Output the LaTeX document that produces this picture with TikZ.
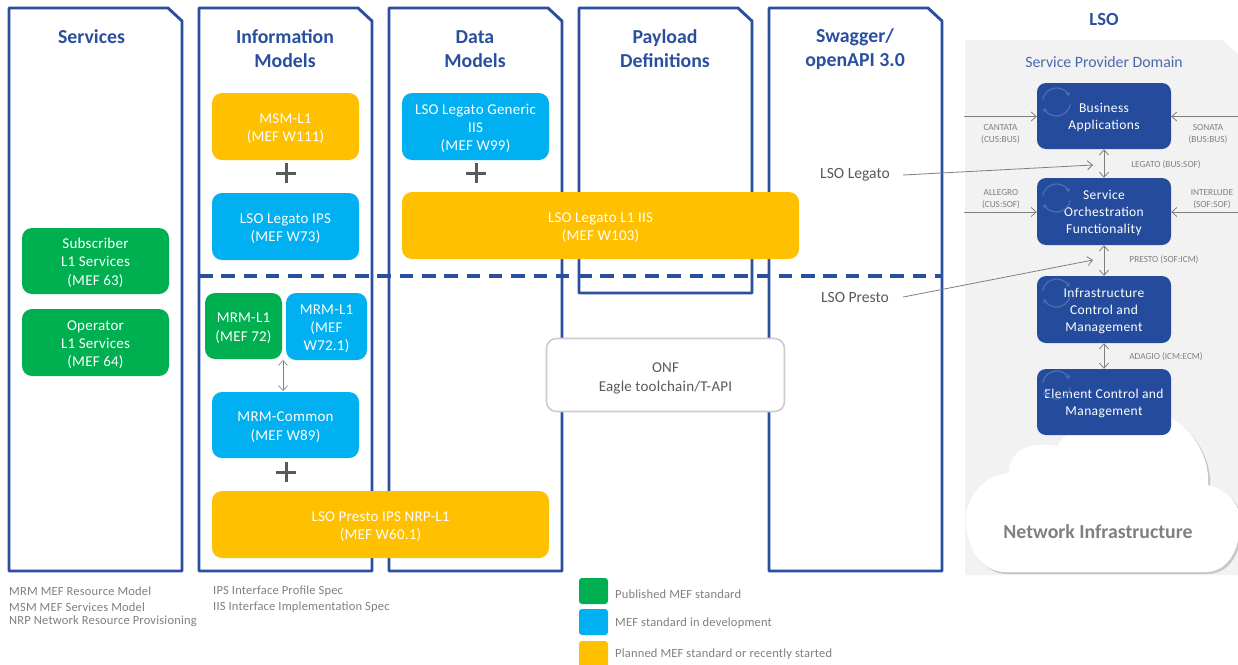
\documentclass[tikz,border=0pt]{standalone}
\usepackage{fontspec}
\setmainfont{Carlito}
\usetikzlibrary{arrows.meta}
\definecolor{mefblue}{HTML}{2A4F9F}
\definecolor{navy}{HTML}{254C9C}
\definecolor{pubgreen}{HTML}{00B050}
\definecolor{devcyan}{HTML}{00B0F0}
\definecolor{planyellow}{HTML}{FFC000}
\definecolor{panelgray}{HTML}{F2F2F2}
\definecolor{conn}{HTML}{7F7F7F}
\definecolor{labelgray}{HTML}{808080}
\definecolor{darkgray}{HTML}{595959}
\definecolor{iconblue}{HTML}{4C6FB2}
\newcommand{\mlift}{\rule{0pt}{14pt}}
\newcommand{\olift}{\rule{0pt}{16.5pt}}
\newcommand{\flift}{\rule{0pt}{13pt}}
\tikzset{
  x=1pt,y=-1pt,
  columnline/.style={draw=mefblue,line width=2.9pt,line join=round,fill=white},
  coltitle/.style={font=\fontsize{19.8}{24}\selectfont\bfseries,text=mefblue,align=center,inner sep=0},
  modelbox/.style={rounded corners=10pt,inner sep=0,text=white,align=center,font=\fontsize{15}{18.3}\selectfont\addfontfeature{LetterSpace=1.5}},
  pub/.style={modelbox,fill=pubgreen},
  dev/.style={modelbox,fill=devcyan},
  plan/.style={modelbox,fill=planyellow},
  funcbox/.style={rounded corners=9pt,fill=navy,inner sep=0,text=white,align=center,minimum width=134pt,font=\fontsize{13.5}{17}\selectfont\addfontfeature{LetterSpace=3}},
  plusline/.style={draw=darkgray,line width=3pt},
  link/.style={draw=conn,line width=.8pt,-{Straight Barb[length=5pt,width=9pt]}},
  biglink/.style={draw=conn,line width=.8pt,{Straight Barb[length=5pt,width=9pt]}-{Straight Barb[length=5pt,width=9pt]}},
  smalllabel/.style={font=\fontsize{9.3}{12}\selectfont,text=labelgray,align=center,inner sep=0},
  footer/.style={font=\fontsize{12.5}{14}\selectfont\addfontfeature{LetterSpace=1.5},text=labelgray,anchor=west,inner sep=0},
  iconarc/.style={draw=iconblue,line width=1.2pt,-{Stealth[length=4pt,width=5pt]}},
  apilabel/.style={font=\fontsize{15.6}{17}\selectfont,text=darkgray,inner sep=0,minimum width=96pt,align=center},
}
\begin{document}
\begin{tikzpicture}
\useasboundingbox (0,0) rectangle (1238,664);
\clip (0,0) rectangle (1238,664);
\fill[white] (0,0) rectangle (1238,664);

% columns
\foreach \l/\r/\b in {9/182/571,199/372/571,389/562/571,579/752/293,769/942/571}{
  \pgfmathsetmacro{\nx}{\r-14}
  \draw[columnline] (\l,8) -- (\nx,8) -- (\r,21) -- (\r,\b) -- (\l,\b) -- cycle;
}
\node[coltitle] (tserv) at (91.5,37) {Services};
\node[coltitle] (tinfo) at (285,49) {Information\\Models};
\node[coltitle] (tdata) at (475,49) {Data\\Models};
\node[coltitle] (tpay) at (665,49) {Payload\\Definitions};
\node[coltitle] (tswag) at (855,49) {Swagger/\\openAPI 3.0};

% dashed separator
\coordinate (dashL) at (199,276);
\coordinate (dashR) at (942,276);
\draw[draw=mefblue,line width=3.2pt,dash pattern=on 13.5pt off 8.8pt] (dashL) -- (dashR);

% model boxes
\node[pub,minimum width=147pt,minimum height=66pt] (sub) at (95.5,261) {\mlift Subscriber\\L1 Services\\(MEF 63)};
\node[pub,minimum width=147pt,minimum height=67pt] (oper) at (95.5,342.5) {\mlift Operator\\L1 Services\\(MEF 64)};
\node[plan,minimum width=147pt,minimum height=67pt] (msm) at (285.5,126.5) {\mlift MSM-L1\\(MEF W111)};
\node[dev,minimum width=147pt,minimum height=67pt] (legips) at (285.5,226.5) {\mlift LSO Legato IPS\\(MEF W73)};
\node[pub,minimum width=77pt,minimum height=66pt] (mrma) at (243.5,326) {\mlift MRM-L1\\(MEF 72)};
\node[dev,minimum width=81pt,minimum height=67pt] (mrmb) at (326.5,326.5) {\mlift MRM-L1\\(MEF\\W72.1)};
\node[dev,minimum width=147pt,minimum height=66pt] (mrmc) at (285.5,425) {\mlift MRM-Common\\(MEF W89)};
\node[plan,minimum width=337pt,minimum height=67pt] (prips) at (380.5,524.5) {\mlift LSO Presto IPS NRP-L1\\(MEF W60.1)};
\node[dev,minimum width=147pt,minimum height=67pt] (leggen) at (475.5,126.5) {\mlift LSO Legato Generic\\IIS\\(MEF W99)};
\node[plan,minimum width=397pt,minimum height=67pt] (legiis) at (600.5,225.5) {\mlift LSO Legato L1 IIS\\(MEF W103)};
\node[modelbox,fill=white,draw=black!20,line width=1.6pt,text=darkgray,minimum width=238pt,minimum height=73pt] (onf) at (665.5,375) {\olift ONF\\Eagle toolchain/T-API};

% plus signs
\foreach \px/\py in {286/173,476/173,286/472}{
  \draw[plusline] (\px-10,\py) -- (\px+10,\py);
  \draw[plusline] (\px,\py-10) -- (\px,\py+10);
}
\coordinate (mrmtop) at (283,360);
\coordinate (mrmbot) at (283,391);
\draw[biglink,line width=.6pt] (mrmtop) -- (mrmbot);

% LSO panel
\node[font=\fontsize{18.5}{20}\selectfont\bfseries,text=mefblue,inner sep=0] (tlso) at (1104,19) {LSO};
\fill[panelgray] (965,40) -- (1222,40) -- (1238,54) -- (1238,575) -- (965,575) -- cycle;
\node[font=\fontsize{15.8}{17}\selectfont,text=mefblue!85!white,inner sep=0] (spd) at (1104,62) {Service Provider Domain};

% cloud with its soft shadow
\foreach \dx/\dy/\col in {2/2/black!22,0/0/white}{
\begin{scope}[shift={(\dx,\dy)}]
\fill[\col] (1009,473) .. controls (1008,455) and (1025,440) .. (1057,446)
  .. controls (1075,420) and (1125,395) .. (1170,418)
  .. controls (1195,430) and (1210,460) .. (1208,485)
  .. controls (1228,490) and (1240,505) .. (1240,520)
  .. controls (1240,555) and (1225,572) .. (1205,572)
  -- (1005,572)
  .. controls (980,572) and (966,545) .. (966,520)
  .. controls (966,495) and (985,475) .. (1009,473) -- cycle;
\end{scope}}
\node[font=\fontsize{19.8}{20}\selectfont\bfseries,text=black!50,inner sep=0] (netinf) at (1098,532) {Network Infrastructure};

% function boxes
\node[funcbox,minimum height=66pt] (bus) at (1104,116) {\flift Business\\Applications};
\node[funcbox,minimum height=67pt] (sof) at (1104,211.5) {\flift Service\\Orchestration\\Functionality};
\node[funcbox,minimum height=67pt] (icm) at (1104,309.5) {\flift Infrastructure\\Control and\\Management};
\node[funcbox,minimum height=66pt] (ecm) at (1104,402) {\flift Element Control and\\Management};
\foreach \iy in {102,198,293,385}{
  \draw[iconarc] ([shift={(190:14)}]1056.5,\iy) arc[start angle=190,end angle=335,radius=14];
  \draw[iconarc] ([shift={(10:14)}]1056.5,\iy) arc[start angle=10,end angle=155,radius=14];
}

% LSO connectors
\draw[biglink] (bus) -- (sof);
\draw[biglink] (sof) -- (icm);
\draw[biglink] (icm) -- (ecm);
\coordinate (cantL) at (964,116.5);
\coordinate (sonR) at (1238,116.5);
\coordinate (allL) at (964,212);
\coordinate (intR) at (1238,212);
\draw[link] (cantL) -- (bus.west |- cantL);
\draw[link] (sonR) -- (bus.east |- sonR);
\draw[link] (allL) -- (sof.west |- allL);
\draw[link] (intR) -- (sof.east |- intR);

\node[smalllabel] (lcant) at (1000.5,134) {CANTATA\\(CUS:BUS)};
\node[smalllabel] (lson) at (1208,134) {SONATA\\(BUS:BUS)};
\node[smalllabel] (lall) at (1001,199) {ALLEGRO\\(CUS:SOF)};
\node[smalllabel] (lint) at (1212,199) {INTERLUDE\\(SOF:SOF)};
\node[smalllabel] (lleg) at (1166,165) {LEGATO (BUS:SOF)};
\node[smalllabel] (lpre) at (1164,260) {PRESTO (SOF:ICM)};
\node[smalllabel] (lada) at (1166,357) {ADAGIO (ICM:ECM)};

\node[apilabel] (apileg) at (855,175) {LSO Legato};
\node[apilabel] (apipre) at (855,297) {LSO Presto};
\coordinate (legend) at (1093,165);
\coordinate (preend) at (1093,260);
\draw[link] (apileg.east) -- (legend);
\draw[link] (apipre.east) -- (preend);

% footnotes
\node[footer] (f1) at (9,591) {MRM MEF Resource Model};
\node[footer] (f2) at (9,607) {MSM MEF Services Model};
\node[footer] (f3) at (9,621) {NRP Network Resource Provisioning};
\node[footer] (f4) at (213,591) {IPS Interface Profile Spec};
\node[footer] (f5) at (213,607) {IIS Interface Implementation Spec};

% legend
\fill[pubgreen,rounded corners=3pt] (579,578) rectangle (608,604);
\fill[devcyan,rounded corners=3pt] (579,609) rectangle (608,635);
\fill[planyellow,rounded corners=3pt] (579,641) rectangle (608,668);
\node[footer] (k1) at (615,594) {Published MEF standard};
\node[footer] (k2) at (615,623) {MEF standard in development};
\node[footer] (k3) at (615,654) {Planned MEF standard or recently started};
\end{tikzpicture}
\end{document}
